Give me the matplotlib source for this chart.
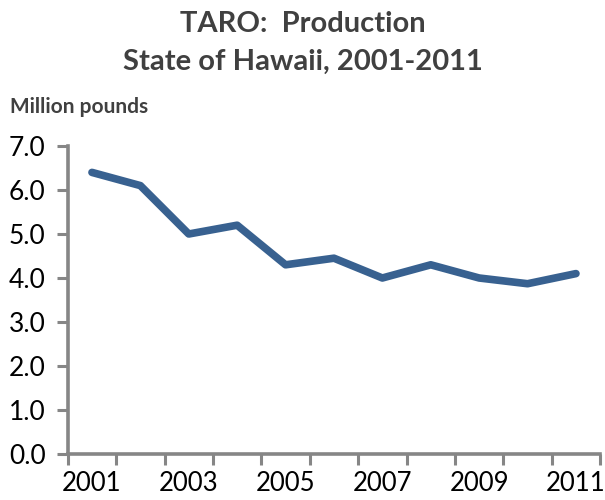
import matplotlib
matplotlib.use("Agg")
from matplotlib import pyplot as plt
import numpy as np

# taro production, million pounds
years = [2001, 2002, 2003, 2004, 2005, 2006, 2007, 2008, 2009, 2010, 2011]
production = [6.4, 6.1, 5.0, 5.2, 4.3, 4.45, 4.0, 4.3, 4.0, 3.87, 4.1]
yticks = [0, 1, 2, 3, 4, 5, 6, 7]

plt.rcParams['font.family'] = ['Lato', 'DejaVu Sans']

fig = plt.figure(figsize=(6.05, 5.0), dpi=100)
ax = fig.add_axes([0.112, 0.092, 0.880, 0.616])

pos = np.arange(len(years))
ax.plot(pos, production, color='#386190', lw=5.5, solid_capstyle='round',
        solid_joinstyle='round')

# category axis, ticks between categories (Excel style)
ax.set_xlim(-0.5, len(years) - 0.5)
ax.set_ylim(0, 7)
ax.set_xticks(np.arange(-0.5, len(years), 1.0))
ax.set_xticklabels([])
ax.set_xticks(pos[::2], minor=True)
ax.set_xticklabels([str(y) for y in years[::2]], minor=True)
ax.tick_params(axis='x', which='minor', length=0, pad=12, labelsize=18.5)
ax.tick_params(axis='x', which='major', length=8, width=2.2, color='#868686')
ax.set_yticks(yticks)
ax.set_yticklabels([f'{v:.1f}' for v in yticks])
ax.tick_params(axis='y', length=8, width=2.2, color='#868686', labelsize=19, pad=8)

for s in ['top', 'right']:
    ax.spines[s].set_visible(False)
for s in ['left', 'bottom']:
    ax.spines[s].set_color('#868686')
    ax.spines[s].set_linewidth(2.6)

fig.text(0.5, 0.953, 'TARO:  Production', ha='center', va='center',
         fontsize=21, fontweight='bold', color='#404040')
fig.text(0.5, 0.877, 'State of Hawaii, 2001-2011', ha='center', va='center',
         fontsize=21, fontweight='bold', color='#404040')
fig.text(0.016, 0.786, 'Million pounds', ha='left', va='center',
         fontsize=15, fontweight='bold', color='#404040')

fig.savefig('out.png', dpi=100)
